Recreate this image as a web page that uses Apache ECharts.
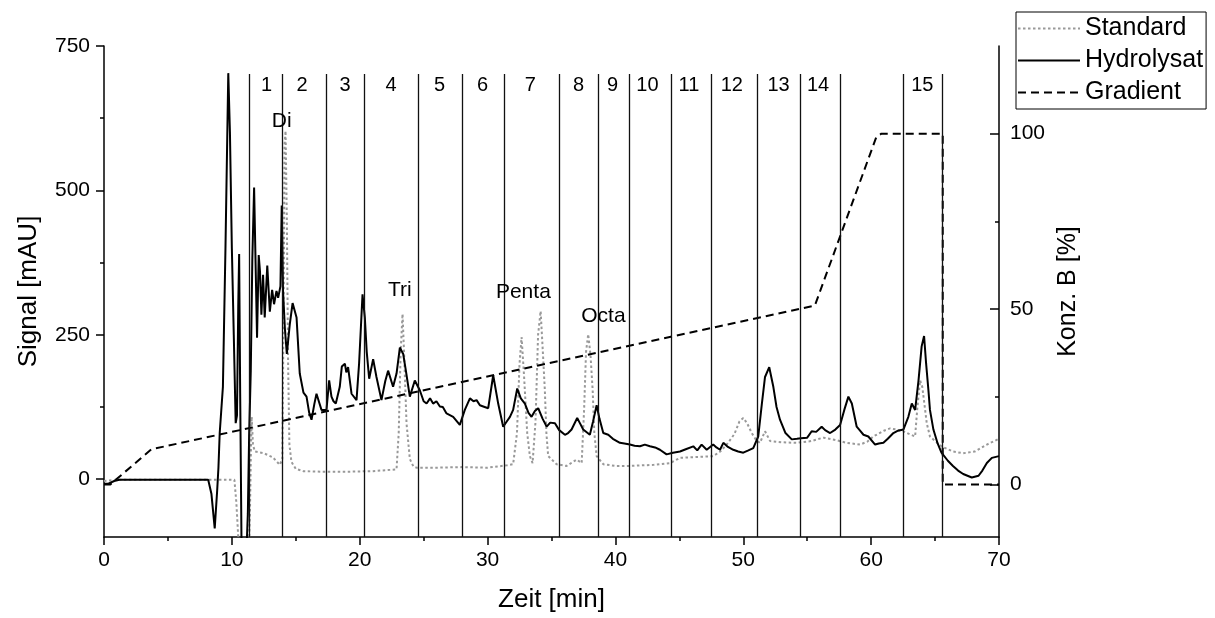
<!DOCTYPE html>
<html><head><meta charset="utf-8">
<script src="https://cdn.jsdelivr.net/npm/echarts@6/dist/echarts.min.js"></script>
<style>html,body{margin:0;padding:0;background:#fff}#c{width:1215px;height:618px}</style>
</head><body><div id="c"></div>
<script>
// ---------- data ----------
const hydrolysat = [
[0,-8],[0.3,-8],[0.8,-3],[1.2,-1],[8.15,-1],[8.4,-25],[8.66,-85],[8.85,-20],[8.95,20],[9.05,80],[9.3,160],[9.5,400],[9.72,703],[9.85,600],[10.0,400],[10.15,250],[10.3,97],[10.4,110],[10.5,300],[10.57,390],[10.65,150],[10.75,-100],[10.85,-150],[11.1,-150],[11.25,-60],[11.35,74],[11.48,188],[11.6,380],[11.74,505],[11.85,380],[11.97,245],[12.1,388],[12.2,360],[12.31,285],[12.44,354],[12.57,280],[12.77,370],[12.97,290],[13.15,328],[13.3,303],[13.49,326],[13.62,314],[13.8,334],[13.9,474],[14.0,326],[14.15,260],[14.3,217],[14.53,268],[14.75,305],[14.87,308],[15.06,280],[15.31,183],[15.6,150],[15.84,143],[16.05,115],[16.23,103],[16.45,130],[16.62,148],[16.8,135],[17.01,120],[17.4,120],[17.61,171],[17.79,143],[17.95,135],[18.13,131],[18.44,160],[18.6,195],[18.84,200],[18.95,185],[19.09,194],[19.36,148],[19.75,137],[19.95,200],[20.22,320],[20.4,280],[20.55,220],[20.74,174],[21.05,208],[21.31,177],[21.7,137],[22.0,170],[22.22,188],[22.61,160],[22.88,183],[23.14,228],[23.4,217],[23.61,188],[23.92,143],[24.31,171],[24.7,154],[25.0,135],[25.23,131],[25.5,140],[25.74,131],[26.0,135],[26.27,126],[26.5,125],[26.79,114],[27.31,108],[27.83,94],[28.22,120],[28.62,140],[28.9,135],[29.14,137],[29.4,128],[29.66,126],[30.05,123],[30.44,180],[30.83,131],[31.22,91],[31.5,100],[31.75,108],[32.0,120],[32.32,157],[32.6,140],[32.92,131],[33.2,115],[33.44,108],[33.7,118],[33.96,123],[34.3,105],[34.62,91],[34.9,98],[35.27,97],[35.6,85],[36.05,77],[36.3,80],[36.57,86],[37.01,106],[37.2,98],[37.48,86],[38.0,77],[38.25,100],[38.53,128],[38.75,105],[39.05,80],[39.44,77],[39.8,70],[40.35,63],[40.7,62],[41.13,60],[41.5,58],[41.92,57],[42.3,60],[42.7,57],[43.1,55],[43.48,51],[44.0,43],[44.5,46],[45.05,48],[45.5,52],[46.09,57],[46.4,50],[46.74,60],[47.14,51],[47.65,60],[47.9,55],[48.18,51],[48.44,63],[48.8,56],[49.22,51],[49.6,48],[50.0,46],[50.4,50],[50.78,54],[51.17,74],[51.45,130],[51.7,177],[52.03,194],[52.35,160],[52.6,125],[52.87,103],[53.3,80],[53.79,69],[54.2,70],[54.5,71],[55.0,72],[55.35,83],[55.7,82],[56.13,91],[56.4,85],[56.79,80],[57.2,86],[57.57,94],[57.9,120],[58.22,143],[58.49,131],[58.87,91],[59.1,85],[59.4,77],[59.78,74],[60.31,60],[60.6,62],[60.96,63],[61.3,70],[61.74,80],[62.1,84],[62.52,86],[62.91,108],[63.18,131],[63.44,120],[63.7,170],[63.95,230],[64.14,248],[64.3,200],[64.48,154],[64.6,120],[64.87,86],[65.2,62],[65.5,46],[66.0,32],[66.4,23],[66.8,15],[67.2,9],[67.87,3],[68.4,6],[68.7,15],[69.05,28],[69.44,37],[70,40]
];
const standard = [
[0,-3],[1,-1],[10.2,-1],[10.35,-40],[10.5,-100],[10.6,-150],[11.3,-150],[11.42,-50],[11.5,60],[11.55,108],[11.65,60],[11.8,48],[12.5,45],[13.2,38],[13.75,25],[13.95,35],[14.05,300],[14.12,580],[14.2,603],[14.3,450],[14.4,200],[14.5,60],[14.66,30],[15.0,18],[15.57,14],[17,13],[19,13],[21,14],[22.88,17],[23.05,80],[23.2,220],[23.35,286],[23.5,200],[23.66,97],[23.92,35],[24.2,22],[24.44,20],[26,20],[28,21],[30,20],[31.5,24],[32.0,26],[32.3,80],[32.5,200],[32.66,246],[32.85,180],[33.1,80],[33.31,40],[33.52,28],[33.75,100],[33.95,250],[34.15,291],[34.3,230],[34.48,154],[34.6,80],[34.74,40],[35.4,26],[36.18,23],[36.96,34],[37.36,28],[37.55,120],[37.7,220],[37.87,251],[38.05,215],[38.22,154],[38.35,80],[38.53,40],[39.05,26],[40,23],[41.13,23],[43,25],[44.27,28],[45.05,37],[46,38],[47.65,40],[48.2,48],[48.7,60],[49.3,78],[49.7,100],[50.0,106],[50.3,97],[50.66,80],[51.0,68],[51.3,63],[51.7,83],[52.1,66],[53,64],[54.18,63],[55.3,66],[56.26,72],[57.2,68],[58.09,63],[59.13,60],[59.7,65],[60.17,74],[61.0,84],[61.48,88],[62.0,86],[62.52,83],[63.0,78],[63.44,74],[63.6,120],[63.83,171],[64.0,160],[64.35,97],[64.6,74],[65.0,66],[65.5,57],[66.4,48],[67.2,45],[68.1,48],[69.05,60],[70,70]
];
const gradient = [[0,0],[0.5,0],[3.7,10],[55.6,51],[60.4,99],[60.8,100],[65.6,100],[65.6,0],[70,0]];

const fractionBounds = [11.35,13.95,17.39,20.36,24.55,27.99,31.29,35.61,38.68,41.05,44.4,47.51,51.09,54.49,57.6,62.53,65.6];
const fractionTop = 701.5;
const fractionNames = ['1','2','3','4','5','6','7','8','9','10','11','12','13','14','15'];
const fractionNameX = [12.71,15.5,18.86,22.45,26.25,29.6,33.35,37.12,39.78,42.5,45.75,49.1,52.76,55.85,64.0];
const fractionNameY = 682;

const peakNames = ['Di','Tri','Penta','Octa'];
const peakNameX = [13.9,23.14,32.8,39.06];
const peakNameY = [619,328,323,283];

const xTickValues = [0,10,20,30,40,50,60,70];
const leftLabels = [0,250,500,750];
const leftMinor = [125,375,625];
const rightLabels = [0,50,100];
const rightMinor = [25,75];

// ---------- chart ----------
const FONT = 'Liberation Sans, Arial, sans-serif';
const chart = echarts.init(document.getElementById('c'));
const axisLine = {show:true, onZero:false, lineStyle:{color:'#000', width:1.5}};

const option = {
  animation: false,
  backgroundColor: '#fff',
  textStyle: {fontFamily: FONT, color:'#000'},
  grid: {left:104, top:46, right:216, bottom:76, containLabel:false},
  legend: {
    data: ['Standard','Hydrolysat','Gradient'],
    orient: 'vertical', left: 1016, top: 12,
    itemWidth: 62, itemHeight: 25, itemGap: 7,
    padding: [4, 3, 4, 1],
    borderColor: '#000', borderWidth: 1,
    itemStyle: {opacity: 0},
    textStyle: {fontSize: 25, fontFamily: FONT, color:'#000'}
  },
  xAxis: {
    type:'value', min:0, max:70, interval:10,
    name:'Zeit [min]', nameLocation:'middle', nameGap:50,
    nameTextStyle:{fontSize:26, fontFamily:FONT, color:'#000'},
    axisLine: axisLine,
    axisTick:{show:true, length:8, lineStyle:{color:'#000', width:1.5}, customValues: xTickValues},
    minorTick:{show:true, splitNumber:2, length:4, lineStyle:{color:'#000', width:1.5}},
    axisLabel:{fontSize:21, margin:13, color:'#000', fontFamily:FONT, customValues: xTickValues},
    splitLine:{show:false}
  },
  yAxis: [
    {
      type:'value', min:-100, max:750, position:'left',
      name:'Signal [mAU]', nameLocation:'middle', nameGap:62, nameRotate:90,
      nameTextStyle:{fontSize:26, fontFamily:FONT, color:'#000'},
      axisLine: axisLine,
      axisTick:{show:true, length:8, lineStyle:{color:'#000', width:1.5}, customValues: leftLabels},
      axisLabel:{fontSize:21, margin:14, color:'#000', fontFamily:FONT, customValues: leftLabels},
      splitLine:{show:false}
    },
    {
      type:'value', min:-15, max:125, position:'right',
      name:'Konz. B [%]', nameLocation:'middle', nameGap:55, nameRotate:90,
      nameTextStyle:{fontSize:25, fontFamily:FONT, color:'#000'},
      axisLine: axisLine,
      axisTick:{show:true, inside:true, length:9, lineStyle:{color:'#000', width:1.5}, customValues: rightLabels},
      axisLabel:{fontSize:21, margin:11, color:'#000', fontFamily:FONT, customValues: rightLabels},
      splitLine:{show:false}
    },
    {
      type:'value', min:-100, max:750, position:'left',
      axisLine:{show:false},
      axisTick:{show:true, length:4, lineStyle:{color:'#000', width:1.5}, customValues: leftMinor},
      axisLabel:{show:false}, splitLine:{show:false}
    },
    {
      type:'value', min:-15, max:125, position:'right',
      axisLine:{show:false},
      axisTick:{show:true, inside:true, length:4, lineStyle:{color:'#000', width:1.5}, customValues: rightMinor},
      axisLabel:{show:false}, splitLine:{show:false}
    }
  ],
  series: [
    {
      name:'Standard', type:'line', yAxisIndex:0, data: standard,
      symbol:'none', showSymbol:false, clip:true,
      lineStyle:{color:'#999', width:2, type:[2.5,2.5]}, itemStyle:{color:'#999'}, z:2
    },
    {
      name:'Hydrolysat', type:'line', yAxisIndex:0, data: hydrolysat,
      symbol:'none', showSymbol:false, clip:true,
      lineStyle:{color:'#000', width:2}, itemStyle:{color:'#000'}, z:3
    },
    {
      name:'Gradient', type:'line', yAxisIndex:1, data: gradient,
      symbol:'none', showSymbol:false, clip:true,
      lineStyle:{color:'#000', width:2, type:[8,5]}, itemStyle:{color:'#000'}, z:3
    },
    {
      name:'fractions', type:'scatter', yAxisIndex:0, symbolSize:0, silent:true,
      itemStyle:{opacity:1, color:'#000'},
      data: fractionNames.map((n,i)=>({name:n, value:[fractionNameX[i], fractionNameY]})),
      label:{show:true, position:'inside', formatter:'{b}', fontSize:20, color:'#000', opacity:1, textBorderWidth:0, fontFamily:FONT},
      markLine:{
        silent:true, symbol:['none','none'], animation:false,
        label:{show:false},
        lineStyle:{color:'#111', width:1.3, type:'solid'},
        data: fractionBounds.map(x=>[{coord:[x,-100]},{coord:[x,fractionTop]}])
      },
      z:4
    },
    {
      name:'peaks', type:'scatter', yAxisIndex:0, symbolSize:0, silent:true,
      itemStyle:{opacity:1, color:'#000'},
      data: peakNames.map((n,i)=>({name:n, value:[peakNameX[i], peakNameY[i]]})),
      label:{show:true, position:'inside', formatter:'{b}', fontSize:21, color:'#000', opacity:1, textBorderWidth:0, fontFamily:FONT},
      z:5
    }
  ]
};
chart.setOption(option);
</script>
</body></html>
